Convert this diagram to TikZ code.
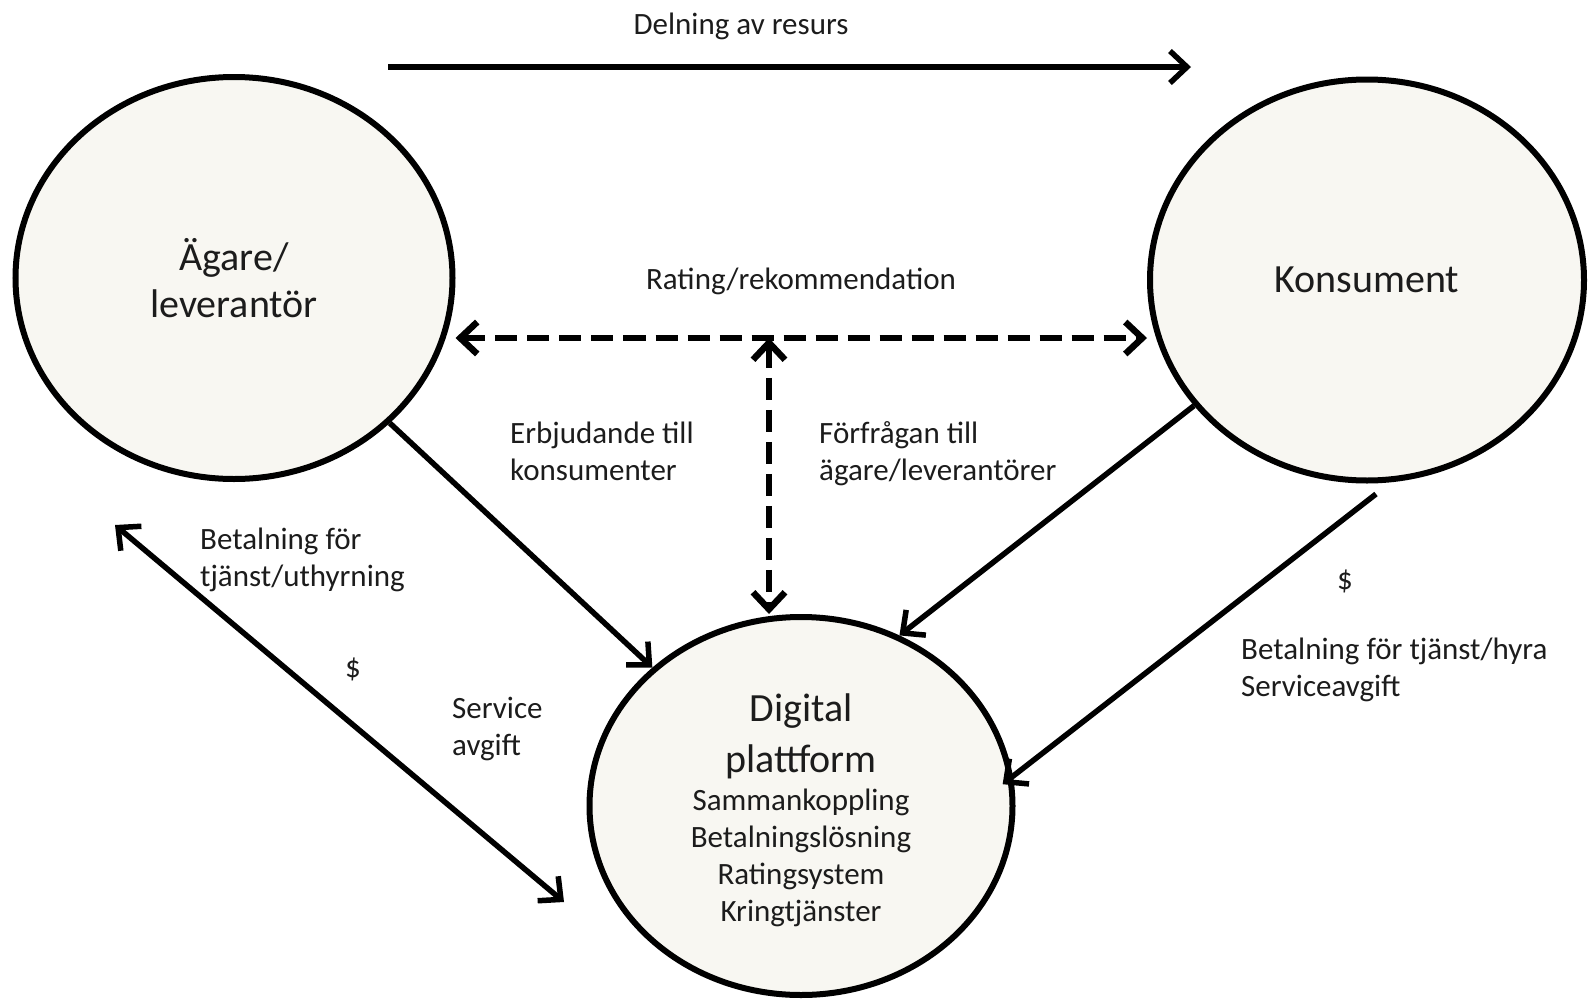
\documentclass[tikz,border=0pt]{standalone}
\usepackage{fontspec}
\setmainfont{Carlito}
\usetikzlibrary{shapes.geometric,arrows.meta}
\definecolor{circfill}{RGB}{248,247,242}
\definecolor{txtgray}{RGB}{28,28,28}
\newcommand\bigline{\fontsize{40}{47}\selectfont}
\tikzset{
  party/.style={ellipse,draw=black,line width=6pt,fill=circfill,inner sep=0pt,
    text=txtgray,align=center,font=\fontsize{40}{47}\selectfont},
  lbl/.style={text=txtgray,align=left,inner sep=0pt,font=\fontsize{31}{37}\selectfont},
  flow/.style={line width=5.5pt,-{Straight Barb[length=17pt,width=32pt]}},
  dflow/.style={line width=6.5pt,dash pattern=on 22pt off 10pt,
    {Straight Barb[length=17pt,width=32pt]}-{Straight Barb[length=17pt,width=32pt]}},
}
\begin{document}
\begin{tikzpicture}[x=1pt,y=-1pt]
\useasboundingbox (0,0) rectangle (1590,1001);
% the three parties
\node[party,minimum width=437pt,minimum height=402pt] (agare) at (234,278) {Ägare/\\leverantör};
\node[party,minimum width=434pt,minimum height=401pt] (kons) at (1367,280) {Konsument};
\node[party,minimum width=423pt,minimum height=378pt,font=\fontsize{31}{37}\selectfont] (plattform) at (801,806)
  {{\bigline\rule{0pt}{37pt}Digital}\\[14pt]{\bigline plattform}\\[1pt]Sammankoppling\\Betalningslösning\\Ratingsystem\\Kringtjänster};
% free ends
\coordinate (delstart) at (388,67);
\coordinate (delend) at (1191,67);
\coordinate (ratmid) at (769,338);
\coordinate (paystart) at (1376,494);
\coordinate (betA) at (115,525);
\coordinate (betB) at (564,902);
% connectors
\draw[flow] (delstart) -- (delend);
\draw[dflow] (ratmid -| agare.east) -- (ratmid -| kons.west);
\draw[dflow] (ratmid) -- (ratmid |- plattform.north);
\draw[flow] (agare) -- (plattform);
\draw[flow] (kons.216) -- (plattform.60);
\draw[flow,shorten >=-13pt] (paystart) -- (plattform.8);
\draw[line width=5.5pt,{Straight Barb[length=17pt,width=32pt]}-{Straight Barb[length=17pt,width=32pt]}] (betA) -- (betB);
% labels
\node[lbl] (deltxt) at (741,26) {Delning av resurs};
\node[lbl] (rattxt) at (801,281) {Rating/rekommendation};
\node[lbl,anchor=west] (erbtxt) at (510,451) {Erbjudande till\\konsumenter};
\node[lbl,anchor=west] (forftxt) at (819,454) {Förfrågan till\\ägare/leverantörer};
\node[lbl,anchor=west] (bettxt) at (200,560) {Betalning för\\tjänst/uthyrning};
\node[lbl] (dollarL) at (353,669) {\$};
\node[lbl,anchor=west] (servtxt) at (452,729) {Service\\avgift};
\node[lbl] (dollarR) at (1345,581) {\$};
\node[lbl,anchor=west] (hyratxt) at (1241,670) {Betalning för tjänst/hyra\\Serviceavgift};
\end{tikzpicture}
\end{document}
